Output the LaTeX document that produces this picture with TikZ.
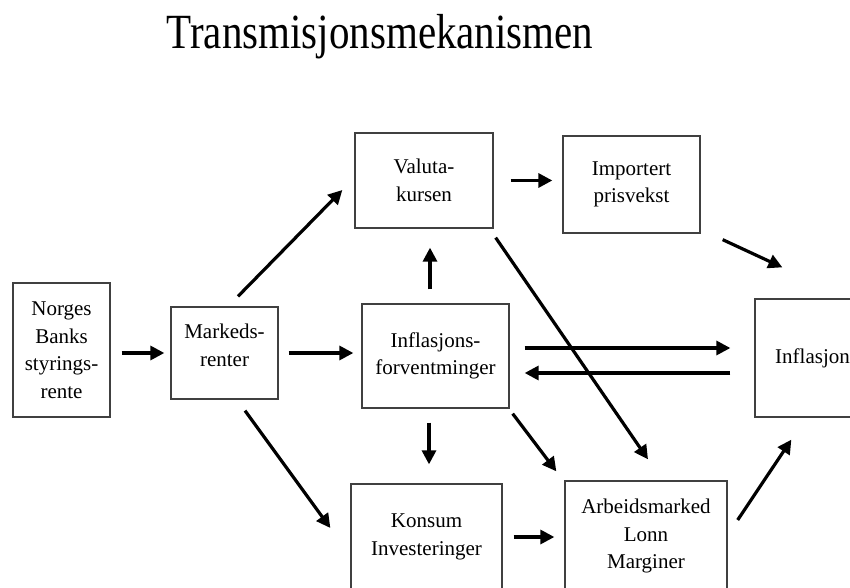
\documentclass[tikz,border=0pt]{standalone}
\usepackage{fontspec}
\setmainfont{Liberation Serif}
\usetikzlibrary{arrows.meta}
\begin{document}
\begin{tikzpicture}[x=1pt,y=1pt]

	% Stiler
	\tikzstyle{boks} = [draw=black!75,line width=1.3pt,align=center,inner sep=0pt,font=\fontsize{21}{27.5}\selectfont]
	\tikzstyle{pil} = [line width=3.2pt,-{Triangle[length=14pt,width=14pt]}]

	\clip (0,0) rectangle (850,587);

	% Tittel
	\node at (380,538) [anchor=base,font=\fontsize{41}{41}\selectfont] (tittel) {\scalebox{1}[1.2]{Transmisjonsmekanismen}};

	% Bokser
	\node at (61.5,237) [boks,minimum width=97pt,minimum height=134pt] (norges) {Norges\\Banks\\styrings-\\rente};
	\node at (224.5,234) [boks,minimum width=107pt,minimum height=92pt] (markeds) {Markeds-\\renter\\[-20pt]\strut};
	\node at (424,406.5) [boks,minimum width=138pt,minimum height=95pt] (valuta) {Valuta-\\kursen};
	\node at (631.5,402.5) [boks,minimum width=137pt,minimum height=97pt] (import) {Importert\\prisvekst};
	\node at (435.5,231) [boks,minimum width=147pt,minimum height=104pt] (forv) {Inflasjons-\\forventminger};
	\node at (812.5,229) [boks,minimum width=115pt,minimum height=118pt] (infl) {Inflasjon};
	\node at (426.5,50) [boks,minimum width=151pt,minimum height=106pt] (konsum) {Konsum\\Investeringer};
	\node at (646,51) [boks,minimum width=162pt,minimum height=110pt] (arbeid) {Arbeidsmarked\\Lonn\\Marginer};

	% Piler fra venstre
	\draw[pil,shorten <=11pt,shorten >=6pt] (norges.east |- markeds.west) -- (markeds.west);
	\draw[pil,shorten <=10pt,shorten >=8pt] (markeds.east) -- (markeds.east -| forv.west);
	\draw[pil] ([shift={(13.5,10)}]markeds.north) -- ([shift={(-12,-9.5)}]valuta.west);
	\draw[pil] ([shift={(20.5,-11)}]markeds.south) -- ([shift={(-20,9)}]konsum.west);

	% Piler rundt forventningene
	\draw[pil,shorten <=14pt,shorten >=19pt] ([xshift=-5.5]forv.north) -- ([xshift=-5.5]forv.north |- valuta.south);
	\draw[pil,shorten <=14pt,shorten >=19pt] ([xshift=-6.5]forv.south) -- ([xshift=-6.5]forv.south |- konsum.north);
	\draw[pil] ([shift={(15,8)}]forv.east) -- ([shift={(-24,10)}]infl.west);
	\draw[pil] ([shift={(-24,-15)}]infl.west) -- ([shift={(15,-17)}]forv.east);
	\draw[pil] ([shift={(3,-5)}]forv.south east) -- ([shift={(-8,9)}]arbeid.north west);

	% Piler mot inflasjon
	\draw[pil,shorten <=17pt,shorten >=10pt] (valuta.east) -- (valuta.east -| import.west);
	\draw[pil] ([shift={(22,-6)}]import.south east) -- ([shift={(28,31)}]infl.north west);
	\draw[pil] ([shift={(2,-9)}]valuta.south east) -- ([shift={(2,21)}]arbeid.north);
	\draw[pil,shorten <=11pt,shorten >=10pt] (konsum.east) -- (konsum.east -| arbeid.west);
	\draw[pil] ([shift={(10,16)}]arbeid.east) -- ([shift={(37,-22)}]infl.south west);

\end{tikzpicture}
\end{document}
